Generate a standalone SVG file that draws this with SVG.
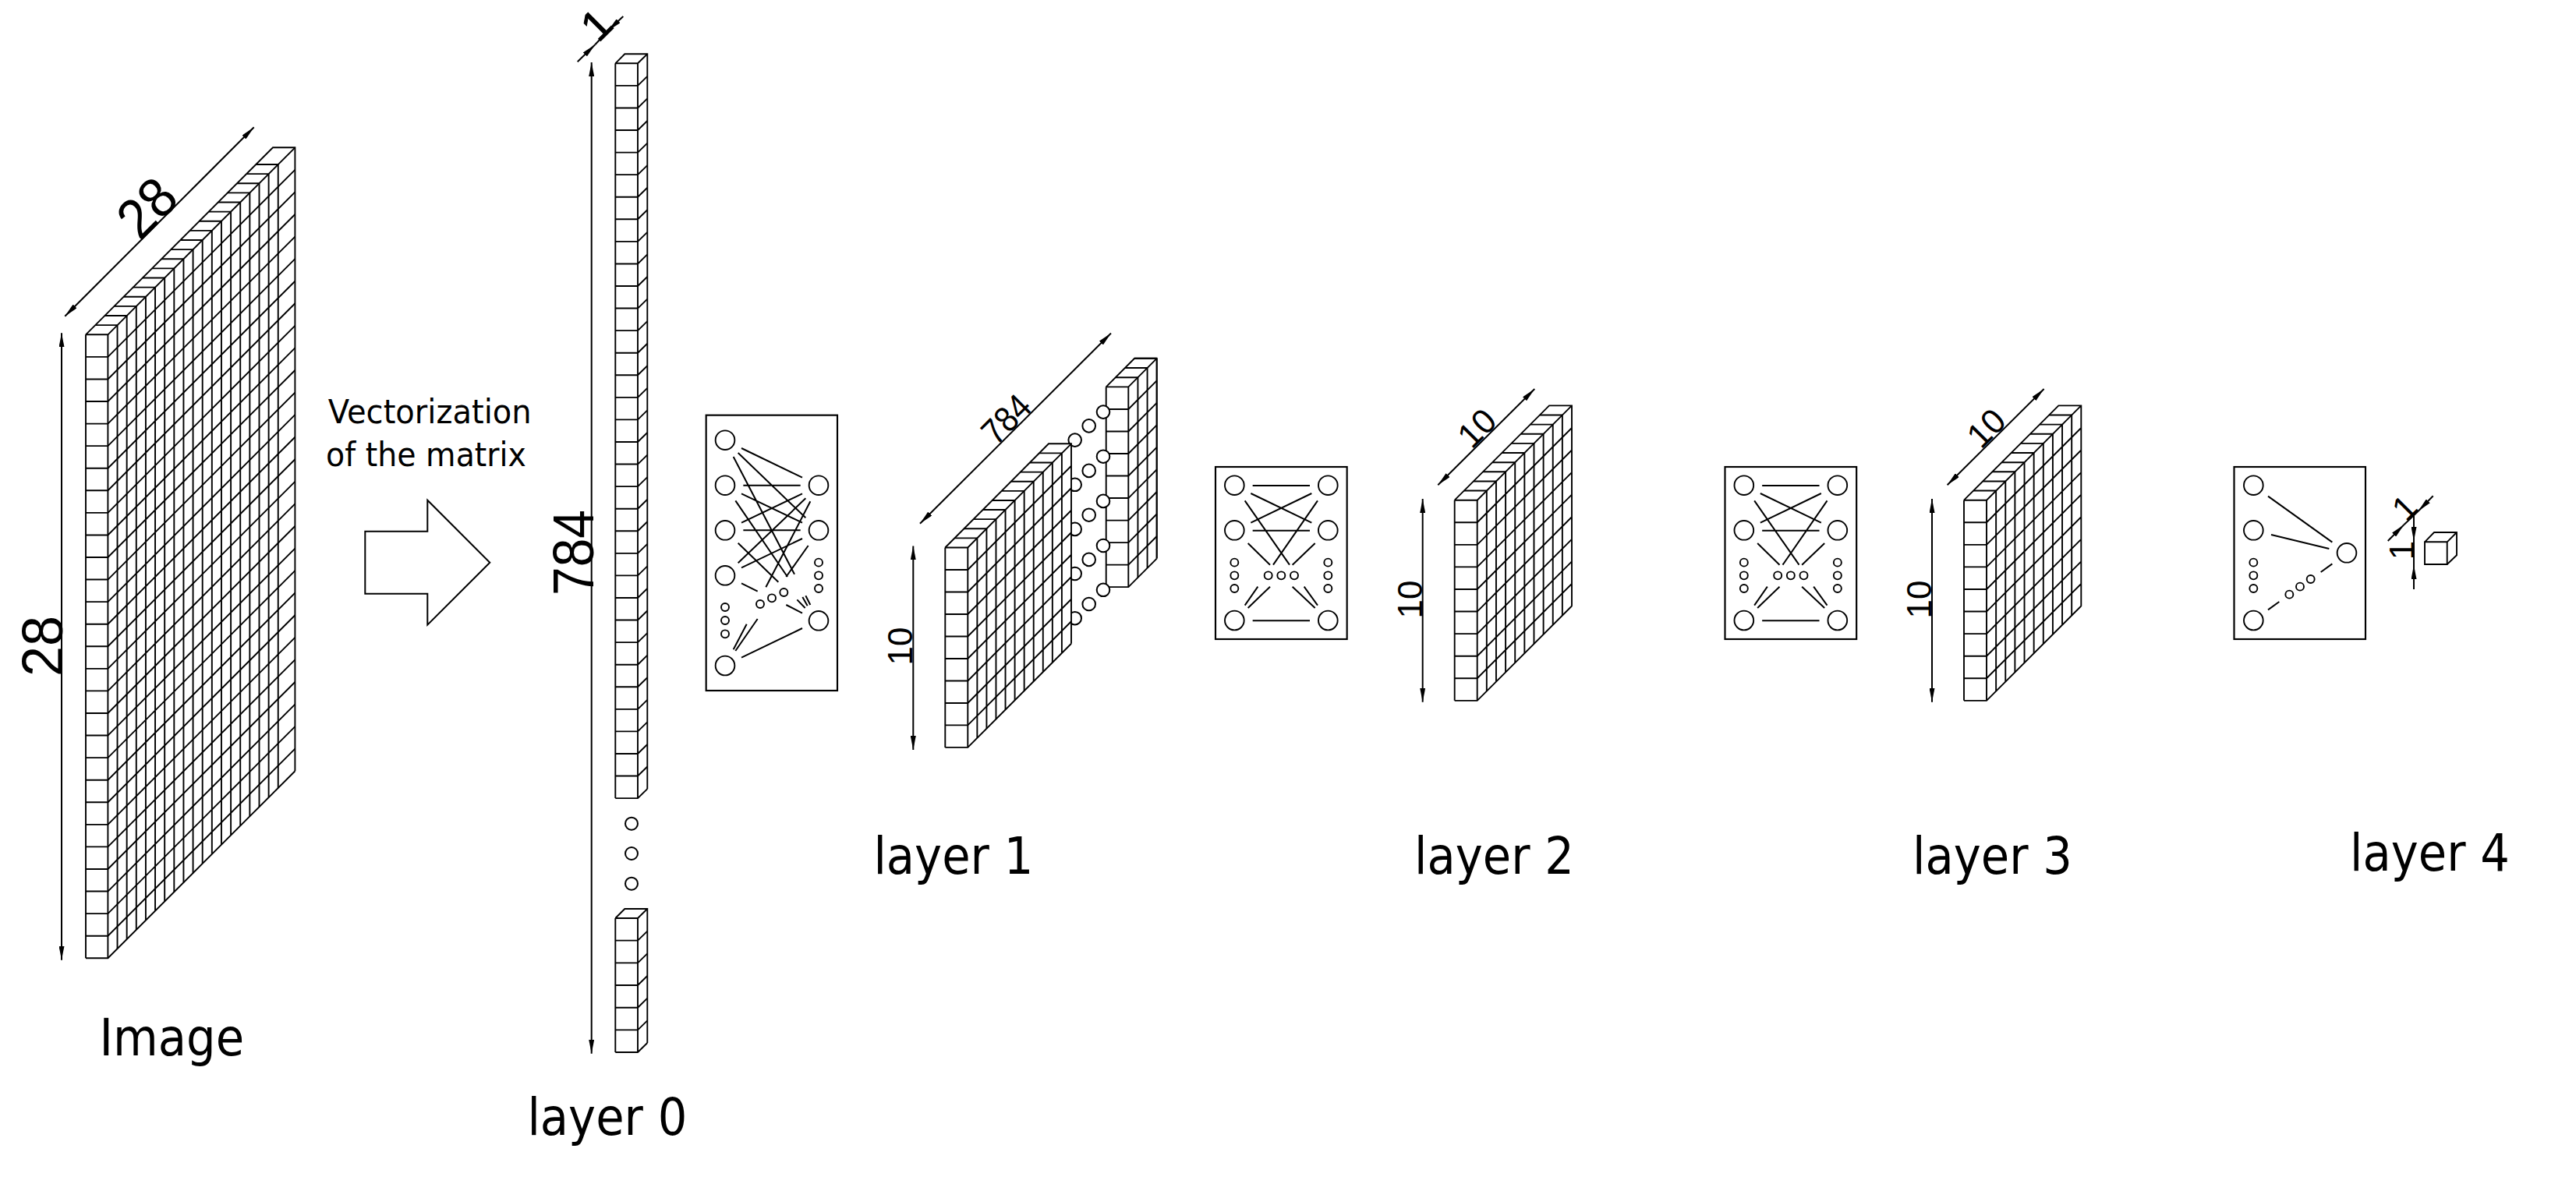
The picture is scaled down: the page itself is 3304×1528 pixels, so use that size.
<svg xmlns="http://www.w3.org/2000/svg" width="3304" height="1528" viewBox="0 0 3304 1528">
<style>
.c{fill:none;stroke:#000;stroke-width:1.9}
.f{fill:#fff;stroke:none}
.n{fill:#fff;stroke:#000;stroke-width:5.7}
.l{fill:none;stroke:#000;stroke-width:6}
.b{fill:#fff;stroke:#000;stroke-width:6.5}
.d{fill:none;stroke:#000;stroke-width:2}
.a{marker-start:url(#arr);marker-end:url(#arr)}
.e{marker-end:url(#arr)}
.t{font-family:"DejaVu Sans",sans-serif;fill:#000}
.m{font-family:"Liberation Sans",Arial,sans-serif;fill:#000;text-anchor:middle}
.o{fill:#fff;stroke:#000;stroke-width:2}
</style>
<defs>
<marker id="arr" markerUnits="userSpaceOnUse" viewBox="0 0 18 7" refX="18" refY="3.5" markerWidth="18" markerHeight="7" orient="auto-start-reverse"><path d="M0 0L18 3.5L0 7z" fill="#000"/></marker>
<g id="cube10">
<path class="f" d="M1865.7 641.7L1986.9 520.4H2016V777.7L1894.7 898.8H1865.7z"/>
<path class="c" d="M1865.7 641.7V898.8M1865.7 641.7L1987 520.4H2016V777.7M1865.7 641.7 h29 l121.3 -121.3 m-150.3 149.87 h29 l121.3 -121.3 m-150.3 149.87 h29 l121.3 -121.3 m-150.3 149.87 h29 l121.3 -121.3 m-150.3 149.87 h29 l121.3 -121.3 m-150.3 149.87 h29 l121.3 -121.3 m-150.3 149.87 h29 l121.3 -121.3 m-150.3 149.87 h29 l121.3 -121.3 m-150.3 149.87 h29 l121.3 -121.3 m-150.3 149.87 h29 l121.3 -121.3"/>
<path class="c" d="M1894.7 641.7 v257.1 m12.13 -269.23 h-29 m29 0 v257.1 m12.13 -269.23 h-29 m29 0 v257.1 m12.13 -269.23 h-29 m29 0 v257.1 m12.13 -269.23 h-29 m29 0 v257.1 m12.13 -269.23 h-29 m29 0 v257.1 m12.13 -269.23 h-29 m29 0 v257.1 m12.13 -269.23 h-29 m29 0 v257.1 m12.13 -269.23 h-29 m29 0 v257.1 m12.13 -269.23 h-29 m29 0 v257.1"/>
</g>
<g id="net2" transform="translate(1560 590) scale(.33333)">
<rect class="b" x="-3" y="27" width="506" height="663"/>
<circle class="n" cx="70" cy="98" r="37"/><circle class="n" cx="70" cy="271" r="37"/><circle class="n" cx="70" cy="618" r="37"/>
<circle class="n" cx="430" cy="98" r="37"/><circle class="n" cx="430" cy="271" r="37"/><circle class="n" cx="430" cy="618" r="37"/>
<circle class="n" cx="70" cy="395" r="15"/><circle class="n" cx="70" cy="445" r="15"/><circle class="n" cx="70" cy="495" r="15"/>
<circle class="n" cx="430" cy="395" r="15"/><circle class="n" cx="430" cy="445" r="15"/><circle class="n" cx="430" cy="495" r="15"/>
<circle class="n" cx="200" cy="445" r="15"/><circle class="n" cx="250" cy="445" r="15"/><circle class="n" cx="300" cy="445" r="15"/>
<path class="l" d="M140 99H360M133 129L367 242M110 157L282 404M133 242L367 129M140 272H360M122 321L207 404M219 404L390 157M293 404L380 321M110 560L160 488M122 570L207 488M293 488L380 570M338 488L390 560M140 619H360"/>
</g>
</defs>
<rect width="3304" height="1528" fill="#fff"/>

<g id="image">
<path class="f" d="M110 429.3L350 189.3H378.4V989.3L138.4 1229.3H110z"/>
<path class="c" d="M110 429.3V1229.3M110 429.3L350 189.3H378.4V989.3"/>
<path class="c" d="M110 429.3 h28.4 l240 -240 m-268.4 268.57 h28.4 l240 -240 m-268.4 268.57 h28.4 l240 -240 m-268.4 268.57 h28.4 l240 -240 m-268.4 268.57 h28.4 l240 -240 m-268.4 268.57 h28.4 l240 -240 m-268.4 268.57 h28.4 l240 -240 m-268.4 268.57 h28.4 l240 -240 m-268.4 268.57 h28.4 l240 -240 m-268.4 268.57 h28.4 l240 -240 m-268.4 268.57 h28.4 l240 -240 m-268.4 268.57 h28.4 l240 -240 m-268.4 268.57 h28.4 l240 -240 m-268.4 268.57 h28.4 l240 -240 m-268.4 268.57 h28.4 l240 -240 m-268.4 268.57 h28.4 l240 -240 m-268.4 268.57 h28.4 l240 -240 m-268.4 268.57 h28.4 l240 -240 m-268.4 268.57 h28.4 l240 -240 m-268.4 268.57 h28.4 l240 -240 m-268.4 268.57 h28.4 l240 -240 m-268.4 268.57 h28.4 l240 -240 m-268.4 268.57 h28.4 l240 -240 m-268.4 268.57 h28.4 l240 -240 m-268.4 268.57 h28.4 l240 -240 m-268.4 268.57 h28.4 l240 -240 m-268.4 268.57 h28.4 l240 -240 m-268.4 268.57 h28.4 l240 -240 m-268.4 268.57 h28.4 l240 -240"/>
<path class="c" d="M138.4 429.3 v800 m12.13 -812.13 h-28.4 m28.4 0 v800 m12.13 -812.13 h-28.4 m28.4 0 v800 m12.13 -812.13 h-28.4 m28.4 0 v800 m12.13 -812.13 h-28.4 m28.4 0 v800 m12.13 -812.13 h-28.4 m28.4 0 v800 m12.13 -812.13 h-28.4 m28.4 0 v800 m12.13 -812.13 h-28.4 m28.4 0 v800 m12.13 -812.13 h-28.4 m28.4 0 v800 m12.13 -812.13 h-28.4 m28.4 0 v800 m12.13 -812.13 h-28.4 m28.4 0 v800 m12.13 -812.13 h-28.4 m28.4 0 v800 m12.13 -812.13 h-28.4 m28.4 0 v800 m12.13 -812.13 h-28.4 m28.4 0 v800 m12.13 -812.13 h-28.4 m28.4 0 v800 m12.13 -812.13 h-28.4 m28.4 0 v800 m12.13 -812.13 h-28.4 m28.4 0 v800 m12.13 -812.13 h-28.4 m28.4 0 v800 m12.13 -812.13 h-28.4 m28.4 0 v800"/>
<text class="t" x="127.5" y="1354.3" font-size="65" textLength="185.6" lengthAdjust="spacingAndGlyphs">Image</text>
</g>

<g id="vectorization">
<polygon points="468.3,681.7 548.3,681.7 548.3,641.7 628.3,721.7 548.3,801.7 548.3,761.7 468.3,761.7" fill="#fff" stroke="#000" stroke-width="2"/>
<text class="t" x="420.7" y="543.3" font-size="43" textLength="261" lengthAdjust="spacingAndGlyphs">Vectorization</text>
<text class="t" x="418" y="598.3" font-size="43" textLength="257" lengthAdjust="spacingAndGlyphs">of the matrix</text>
</g>

<g id="layer0">
<path class="f" d="M789.3 81.3L801.3 69.3H830.3V1012.3L818 1024.1H789.3z"/>
<path class="c" d="M789.3 81.3V1024.1M789.3 81.3L801.3 69.3H830.3V1012.3"/>
<path class="c" d="M818 81.3V1024.1"/>
<path class="c" d="M789.3 81.3 h28.7 l12.3 -12 m-41 40.57 h28.7 l12.3 -12 m-41 40.57 h28.7 l12.3 -12 m-41 40.57 h28.7 l12.3 -12 m-41 40.57 h28.7 l12.3 -12 m-41 40.57 h28.7 l12.3 -12 m-41 40.57 h28.7 l12.3 -12 m-41 40.57 h28.7 l12.3 -12 m-41 40.57 h28.7 l12.3 -12 m-41 40.57
h28.7 l12.3 -12 m-41 40.57 h28.7 l12.3 -12 m-41 40.57 h28.7 l12.3 -12 m-41 40.57 h28.7 l12.3 -12 m-41 40.57 h28.7 l12.3 -12 m-41 40.57 h28.7 l12.3 -12 m-41 40.57 h28.7 l12.3 -12 m-41 40.57 h28.7 l12.3 -12 m-41 40.57 h28.7 l12.3 -12 m-41 40.57 h28.7 l12.3 -12 m-41 40.57
h28.7 l12.3 -12 m-41 40.57 h28.7 l12.3 -12 m-41 40.57 h28.7 l12.3 -12 m-41 40.57 h28.7 l12.3 -12 m-41 40.57 h28.7 l12.3 -12 m-41 40.57 h28.7 l12.3 -12 m-41 40.57 h28.7 l12.3 -12 m-41 40.57 h28.7 l12.3 -12 m-41 40.57 h28.7 l12.3 -12 m-41 40.57 h28.7 l12.3 -12 m-41 40.57
h28.7 l12.3 -12 m-41 40.57 h28.7 l12.3 -12 m-41 40.57 h28.7 l12.3 -12 m-41 40.57 h28.7 l12.3 -12 M789.3 995.53 h28.7 l12.3 -12 M789.3 1024.1 h28.7 l12.3 -12"/>
<circle class="o" cx="810" cy="1056.7" r="8"/>
<circle class="o" cx="810" cy="1095" r="8"/>
<circle class="o" cx="810" cy="1133.7" r="8"/>
<path class="f" d="M789.3 1178L801.3 1166H830.3V1338L818 1350H789.3z"/>
<path class="c" d="M789.3 1178V1350M789.3 1178L801.3 1166H830.3V1338M818 1178V1350"/>
<path class="c" d="M789.3 1178 h28.7 l12.3 -12 m-41 40.67 h28.7 l12.3 -12 m-41 40.67 h28.7 l12.3 -12 m-41 40.67 h28.7 l12.3 -12 m-41 40.67 h28.7 l12.3 -12 m-41 40.67 h28.7 l12.3 -12 m-41 40.67 h28.7 l12.3 -12"/>
<text class="t" x="676.4" y="1456" font-size="66" textLength="205" lengthAdjust="spacingAndGlyphs">layer 0</text>
</g>

<g id="net1" transform="translate(900 520) scale(.33333)">
<rect class="b" x="17" y="38" width="505" height="1060"/>
<circle class="n" cx="90" cy="134" r="37"/><circle class="n" cx="90" cy="308" r="37"/><circle class="n" cx="90" cy="481" r="37"/><circle class="n" cx="90" cy="655" r="37"/><circle class="n" cx="90" cy="1002" r="37"/>
<circle class="n" cx="450" cy="308" r="37"/><circle class="n" cx="450" cy="481" r="37"/><circle class="n" cx="450" cy="829" r="37"/>
<circle class="n" cx="90" cy="777" r="15"/><circle class="n" cx="90" cy="828" r="15"/><circle class="n" cx="90" cy="880" r="15"/>
<circle class="n" cx="450" cy="605" r="15"/><circle class="n" cx="450" cy="655" r="15"/><circle class="n" cx="450" cy="705" r="15"/>
<circle class="n" cx="225" cy="765" r="15"/><circle class="n" cx="270" cy="742" r="15"/><circle class="n" cx="316" cy="720" r="15"/>
<path class="l" d="M153 165L387 278M140 183L400 433M122 198L357 650M160 308H380M153 340L387 452M130 367L330 660M153 452L387 340M160 481H380M140 530L295 680M140 607L400 358M153 625L387 513M153 685L215 716M247 700L418 370M325 660L410 540M325 768L387 800M367 748L398 780M388 738L407 772M400 733L418 768M122 940L173 842M130 945L215 822M153 971L387 858"/>
</g>

<g id="layer1">
<path class="f" d="M1418.7 496.4L1455.1 459.8H1483.7V716.6L1447.3 753.2H1418.7z"/>
<path class="c" d="M1418.7 496.4V753.2M1418.7 496.4L1455.1 459.8H1483.7V716.6"/>
<path class="c" d="M1418.7 496.4 h28.6 l36.4 -36.6 m-65 65.13 h28.6 l36.4 -36.6 m-65 65.13 h28.6 l36.4 -36.6 m-65 65.13 h28.6 l36.4 -36.6 m-65 65.13 h28.6 l36.4 -36.6 m-65 65.13 h28.6 l36.4 -36.6 m-65 65.13 h28.6 l36.4 -36.6 m-65 65.13 h28.6 l36.4 -36.6 m-65 65.13 h28.6 l36.4 -36.6 m-65 65.13 h28.6 l36.4 -36.6"/>
<path class="c" d="M1447.3 496.4 v256.8 m12.13 -269 h-28.6 m28.6 0 v256.8 m12.13 -269 h-28.6 m28.6 0 v256.8 m12.13 -269 h-28.6 m28.6 0 v256.8"/>
<g>
<circle class="o" cx="1415" cy="528.6" r="8.3"/><circle class="o" cx="1415" cy="585.7" r="8.3"/><circle class="o" cx="1415" cy="642.9" r="8.3"/><circle class="o" cx="1415" cy="700" r="8.3"/><circle class="o" cx="1415" cy="756.8" r="8.3"/>
<circle class="o" cx="1396.7" cy="546.4" r="8.3"/><circle class="o" cx="1396.7" cy="603.9" r="8.3"/><circle class="o" cx="1396.7" cy="660.7" r="8.3"/><circle class="o" cx="1396.7" cy="717.9" r="8.3"/><circle class="o" cx="1396.7" cy="775" r="8.3"/>
<circle class="o" cx="1378.7" cy="564.6" r="8.3"/><circle class="o" cx="1378.7" cy="621.8" r="8.3"/><circle class="o" cx="1378.7" cy="678.9" r="8.3"/><circle class="o" cx="1378.7" cy="736" r="8.3"/><circle class="o" cx="1378.7" cy="793.2" r="8.3"/>
</g>
<path class="f" d="M1212.3 702.5L1345 569.3H1374V825.7L1241.3 958.9H1212.3z"/>
<path class="c" d="M1212.3 702.5V958.9M1212.3 702.5L1345 569.3H1374V825.7"/>
<path class="c" d="M1212.3 702.5 h29 l132.7 -133.2 m-161.7 161.69 h29 l132.7 -133.2 m-161.7 161.69 h29 l132.7 -133.2 m-161.7 161.69 h29 l132.7 -133.2 m-161.7 161.69 h29 l132.7 -133.2 m-161.7 161.69 h29 l132.7 -133.2 m-161.7 161.69 h29 l132.7 -133.2 m-161.7 161.69 h29 l132.7 -133.2 m-161.7 161.69 h29 l132.7 -133.2 m-161.7 161.69 h29 l132.7 -133.2"/>
<path class="c" d="M1241.3 702.5 v256.4 m12.06 -268.51 h-29 m29 0 v256.4 m12.06 -268.51 h-29 m29 0 v256.4 m12.06 -268.51 h-29 m29 0 v256.4 m12.06 -268.51 h-29 m29 0 v256.4 m12.06 -268.51 h-29 m29 0 v256.4 m12.06 -268.51 h-29 m29 0 v256.4 m12.06 -268.51 h-29 m29 0 v256.4 m12.06 -268.51 h-29 m29 0 v256.4 m12.06 -268.51 h-29 m29 0 v256.4 m12.06 -268.51 h-29 m29 0 v256.4"/>
<text class="t" x="1120.4" y="1120.7" font-size="66" textLength="205" lengthAdjust="spacingAndGlyphs">layer 1</text>
</g>

<g id="net-layer2"><use href="#net2"/></g>
<g id="layer2"><use href="#cube10"/>
<text class="t" x="1814" y="1120.7" font-size="66" textLength="205" lengthAdjust="spacingAndGlyphs">layer 2</text>
</g>
<g id="net-layer3"><use href="#net2" transform="translate(653.5 0)"/></g>
<g id="layer3"><use href="#cube10" transform="translate(653.3 0)"/>
<text class="t" x="2453" y="1120.7" font-size="66" textLength="205" lengthAdjust="spacingAndGlyphs">layer 3</text>
</g>

<g id="net4" transform="translate(2870 590) scale(.33333)">
<rect class="b" x="-13.5" y="27" width="505.5" height="663"/>
<circle class="n" cx="61" cy="98" r="37"/><circle class="n" cx="61" cy="271" r="37"/><circle class="n" cx="61" cy="618" r="37"/>
<circle class="n" cx="420" cy="358" r="37"/>
<circle class="n" cx="61" cy="395" r="15"/><circle class="n" cx="61" cy="445" r="15"/><circle class="n" cx="61" cy="495" r="15"/>
<circle class="n" cx="199" cy="518" r="15"/><circle class="n" cx="240" cy="488" r="15"/><circle class="n" cx="281" cy="459" r="15"/>
<path class="l" d="M117 140L364 317M129 288L352 342M117 577L160 546M320 432L364 400"/>
</g>
<g id="layer4">
<path class="f" d="M3110 695.3L3122 683H3151V712.3L3138.7 724H3110z"/>
<path class="c" d="M3110 695.3H3138.7V724H3110zM3110 695.3L3122 683H3151V712.3L3138.7 724M3138.7 695.3L3151 683"/>
<text class="t" x="3014" y="1117.3" font-size="66" textLength="205" lengthAdjust="spacingAndGlyphs">layer 4</text>
</g>

<g id="connectors">
<line class="d a" x1="79" y1="427.3" x2="79" y2="1231.7"/>
<line class="d a" x1="83.3" y1="405.7" x2="325.7" y2="163.3"/>
<line class="d a" x1="758.7" y1="80" x2="758.7" y2="1351.7"/>
<line class="d e" x1="740.7" y1="79.3" x2="763.3" y2="57.3"/>
<line class="d" x1="763.3" y1="57.3" x2="780" y2="39.3"/>
<line class="d e" x1="799.3" y1="21" x2="780" y2="39.3"/>
<line class="d a" x1="1171.3" y1="700.4" x2="1171.3" y2="962.1"/>
<line class="d a" x1="1180" y1="671.8" x2="1425" y2="427.5"/>
<line class="d a" x1="1824.7" y1="640" x2="1824.7" y2="900.7"/>
<line class="d a" x1="1844.3" y1="622.3" x2="1968.3" y2="499"/>
<line class="d a" x1="2478" y1="640" x2="2478" y2="900.7"/>
<line class="d a" x1="2497.6" y1="622.3" x2="2621.6" y2="499"/>
<line class="d e" x1="3062.7" y1="694" x2="3083.3" y2="673.3"/>
<line class="d" x1="3083.3" y1="673.3" x2="3101.7" y2="655.7"/>
<line class="d e" x1="3120.7" y1="636.3" x2="3101.7" y2="655.7"/>
<line class="d" x1="3096" y1="661.7" x2="3096" y2="694"/>
<line class="d e" x1="3096" y1="672" x2="3096" y2="694"/>
<line class="d" x1="3096" y1="694" x2="3096" y2="725"/>
<line class="d e" x1="3096" y1="756" x2="3096" y2="725"/>
<text class="m" transform="translate(206 284) rotate(-45)" font-size="72" textLength="74" lengthAdjust="spacingAndGlyphs">28</text>
<text class="m" transform="translate(80 829) rotate(-90)" font-size="74" textLength="78" lengthAdjust="spacingAndGlyphs">28</text>
<text class="m" transform="translate(761 709) rotate(-90)" font-size="74" textLength="110" lengthAdjust="spacingAndGlyphs">784</text>
<text class="m" transform="translate(778 45) rotate(-45)" font-size="54" stroke="#000" stroke-width="1">1</text>
<text class="m" transform="translate(1301.7 549) rotate(-45)" font-size="46" textLength="68" lengthAdjust="spacingAndGlyphs">784</text>
<text class="m" transform="translate(1170 829) rotate(-90)" font-size="44">10</text>
<text class="m" transform="translate(1823.5 769) rotate(-90)" font-size="44">10</text>
<text class="m" transform="translate(1905 560) rotate(-45)" font-size="44">10</text>
<text class="m" transform="translate(2477 769) rotate(-90)" font-size="44">10</text>
<text class="m" transform="translate(2558.3 560) rotate(-45)" font-size="44">10</text>
<text class="m" transform="translate(3095 662) rotate(-45)" font-size="44">1</text>
<text class="m" transform="translate(3096 706) rotate(-90)" font-size="44">1</text>
</g>
</svg>
